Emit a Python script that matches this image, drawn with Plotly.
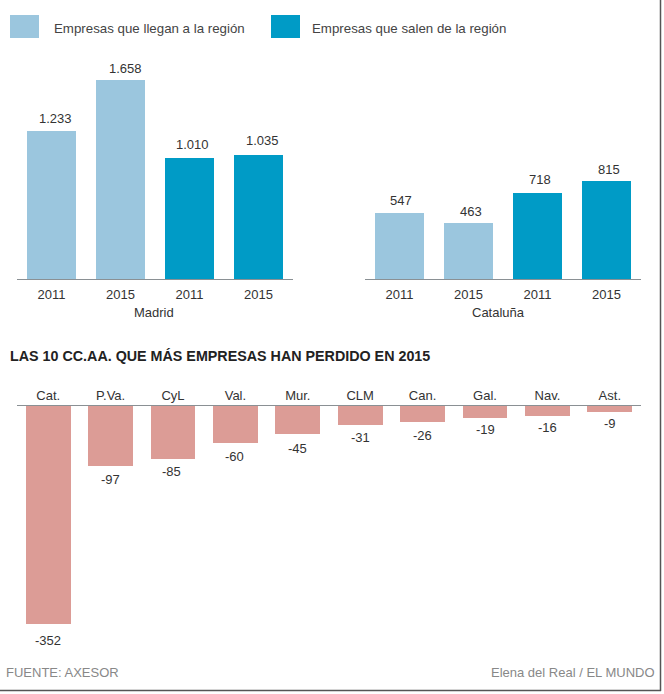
import plotly.graph_objects as go

W, H = 664, 694
FONT = "Liberation Sans"

years = ["2011", "2015", "2011", "2015"]
madrid = [1233, 1658, 1010, 1035]
cataluna = [547, 463, 718, 815]
madrid_labels = ["1.233", "1.658", "1.010", "1.035"]
cataluna_labels = ["547", "463", "718", "815"]
regions = ["Cat.", "P.Va.", "CyL", "Val.", "Mur.", "CLM", "Can.", "Gal.", "Nav.", "Ast."]
losses = [-352, -97, -85, -60, -45, -31, -26, -19, -16, -9]
light = "#9bc6de"
dark = "#009bc6"
red = "#dc9c96"
cols = [light, light, dark, dark]
txt = "#333333"

# small per-label nudges seen in the reference (pixels)
madrid_dx = [4, 4.5, 2.5, 3.5]
madrid_dy = [13, 12, 13, 14]
cat_dx = [2, 2.5, 2, 2]
cat_dy = [13, 12, 13, 12]
loss_dx = [0, 0, -2, -1, 0, 0, 0, 0, 0, 0]
loss_dy = [16, 13, 13, 13, 15, 12, 13, 12, 12, 12]


def xd(a, b):
    return [a / W, b / W]


def yd(top, bottom):
    return [1 - bottom / H, 1 - top / H]


fig = go.Figure()
pos4 = [0, 1, 2, 3]
pos10 = list(range(10))
fig.add_trace(go.Bar(x=pos4, y=madrid, marker=dict(color=cols, line_width=0), xaxis="x", yaxis="y",
                     showlegend=False, width=0.72))
fig.add_trace(go.Bar(x=pos4, y=cataluna, marker=dict(color=cols, line_width=0), xaxis="x2", yaxis="y2",
                     showlegend=False, width=0.72))
fig.add_trace(go.Bar(x=pos10, y=losses, marker=dict(color=red, line_width=0), xaxis="x3", yaxis="y3",
                     showlegend=False, width=0.72))

ax = dict(showgrid=False, zeroline=False, showline=True, linecolor="#8a9094", linewidth=1, ticks="",
          tickfont=dict(size=13, color=txt, family=FONT), fixedrange=True)
ay = dict(visible=False, fixedrange=True)
top_y = yd(60, 279)


def paper_text(text, x, y, anchor="left", size=13, color=txt):
    return dict(text=text, xref="paper", yref="paper", x=x / W, y=1 - y / H, xanchor=anchor, yanchor="middle",
                showarrow=False, font=dict(size=size, color=color, family=FONT))


notes = [
    paper_text("Empresas que llegan a la región", 52, 28, size=13.3, color="#444444"),
    paper_text("Empresas que salen de la región", 310, 28, size=13.3, color="#444444"),
    paper_text("Madrid", 154, 312, "center"),
    paper_text("Cataluña", 498, 312, "center"),
    paper_text("<b>LAS 10 CC.AA. QUE MÁS EMPRESAS HAN PERDIDO EN 2015</b>", 7.5, 356, size=14.3, color="#222222"),
    paper_text("FUENTE: AXESOR", 4, 672, color="#888888"),
    paper_text("Elena del Real / EL MUNDO", 657, 672, "right", size=13, color="#888888"),
]
for xa, ya, xs, ys, labels, dxs, dys, sign in [
    ("x", "y", pos4, madrid, madrid_labels, madrid_dx, madrid_dy, 1),
    ("x2", "y2", pos4, cataluna, cataluna_labels, cat_dx, cat_dy, 1),
    ("x3", "y3", pos10, losses, [str(v) for v in losses], loss_dx, loss_dy, -1),
]:
    for px, py, lab, dx, dy in zip(xs, ys, labels, dxs, dys):
        notes.append(dict(text=lab, xref=xa, yref=ya, x=px, y=py, xshift=dx, yshift=sign * dy, showarrow=False,
                          xanchor="center", yanchor="middle", font=dict(size=13, color=txt, family=FONT)))

fig.update_layout(
    width=W, height=H, autosize=False, margin=dict(l=0, r=0, t=0, b=0),
    paper_bgcolor="white", plot_bgcolor="white", showlegend=False, bargap=0,
    font=dict(family=FONT, size=13, color=txt),
    xaxis=dict(ax, domain=xd(17, 293), range=[-0.5, 3.5], tickmode="array", tickvals=pos4, ticktext=years,
               ticklabelstandoff=3),
    yaxis=dict(ay, domain=top_y, range=[0, 219 / 0.12]),
    xaxis2=dict(ax, domain=xd(365, 641), range=[-0.5, 3.5], tickmode="array", tickvals=pos4, ticktext=years,
                anchor="y2", ticklabelstandoff=3),
    yaxis2=dict(ay, domain=top_y, range=[0, 219 / 0.12], anchor="x2"),
    xaxis3=dict(ax, domain=xd(17, 641), range=[-0.5, 9.5], tickmode="array", tickvals=pos10,
                ticktext=regions, side="top", anchor="y3"),
    yaxis3=dict(ay, domain=yd(406, 650), range=[-244 / 0.62, 0], anchor="x3"),
    shapes=[
        dict(type="rect", xref="paper", yref="paper", x0=10 / W, x1=39 / W, y0=1 - 38 / H, y1=1 - 15 / H,
             fillcolor=light, line_width=0),
        dict(type="rect", xref="paper", yref="paper", x0=271 / W, x1=300 / W, y0=1 - 38 / H, y1=1 - 15 / H,
             fillcolor=dark, line_width=0),
        dict(type="line", xref="paper", yref="paper", x0=660.5 / W, x1=660.5 / W, y0=1 - 691 / H, y1=1,
             line=dict(color="#555555", width=1.5)),
        dict(type="line", xref="paper", yref="paper", x0=0, x1=661 / W, y0=1 - 690.5 / H, y1=1 - 690.5 / H,
             line=dict(color="#555555", width=1.5)),
    ],
    annotations=notes,
)
fig.write_html("out.html", post_script="document.body.style.margin='0';", config={"displayModeBar": False})
